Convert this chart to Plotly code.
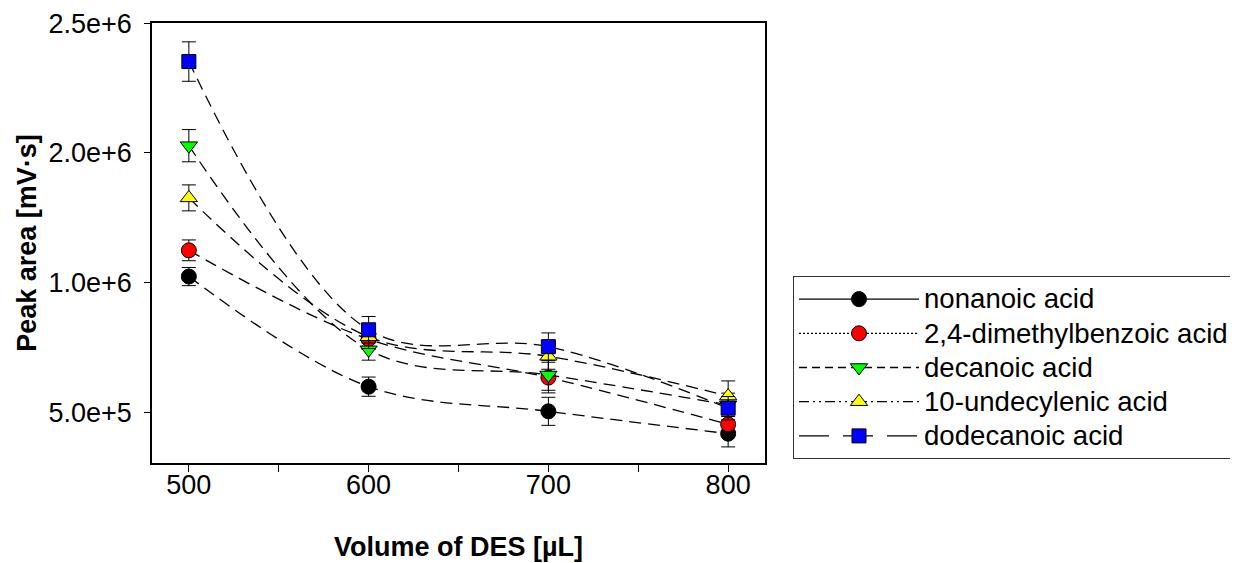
import plotly.graph_objects as go

# ---- data ----
volumes = [500, 600, 700, 800]

series_names = [
    "nonanoic acid",
    "2,4-dimethylbenzoic acid",
    "decanoic acid",
    "10-undecylenic acid",
    "dodecanoic acid",
]

nonanoic = [1.024e6, 6.00e5, 5.05e5, 4.19e5]
nonanoic_err = [3.5e4, 3.7e4, 5.4e4, 5.1e4]

dimethylbenzoic = [1.125e6, 7.83e5, 6.35e5, 4.55e5]
dimethylbenzoic_err = [4.0e4, 4.0e4, 5.9e4, 4.0e4]

decanoic = [1.528e6, 7.42e5, 6.45e5, 5.30e5]
decanoic_err = [6.2e4, 4.0e4, 5.9e4, 4.5e4]

undecylenic = [1.327e6, 7.92e5, 7.17e5, 5.64e5]
undecylenic_err = [5.0e4, 4.5e4, 5.0e4, 5.8e4]

dodecanoic = [1.852e6, 8.19e5, 7.54e5, 5.17e5]
dodecanoic_err = [7.6e4, 5.1e4, 5.3e4, 4.5e4]

y_tickvals = [5e5, 1e6, 1.5e6, 2e6]
y_ticktext = ["5.0e+5", "1.0e+6", "2.0e+6", "2.5e+6"]
x_tickvals = [500, 600, 700, 800]
x_ticktext = ["500", "600", "700", "800"]
x_minor_tickvals = [550, 650, 750]

# ---- styles ----
values = [nonanoic, dimethylbenzoic, decanoic, undecylenic, dodecanoic]
errors = [nonanoic_err, dimethylbenzoic_err, decanoic_err, undecylenic_err, dodecanoic_err]
colors = ["#000000", "#FF0000", "#00FF00", "#FFFF00", "#0000FF"]
symbols = ["circle", "circle", "triangle-down", "triangle-up", "square"]
sizes = [15, 15, 15, 15, 14]
legend_dash = ["solid", "2px,2px", "8px,5px", "10px,4px,2px,4px,2px,4px", "30px,14px"]

FONT = "Arial, Liberation Sans, sans-serif"
TXT = 27

fig = go.Figure()

for name, y, err, c, s, sz, ld in zip(series_names, values, errors, colors,
                                      symbols, sizes, legend_dash):
    fig.add_trace(go.Scatter(
        x=volumes, y=y, mode="lines+markers", name=name,
        showlegend=False, legendgroup=name,
        line=dict(color="black", width=1.3, dash="12px,7px", shape="spline", smoothing=1),
        marker=dict(symbol=s, size=sz, color=c, line=dict(color="black", width=1)),
        error_y=dict(type="data", array=err, visible=True, color="black",
                     thickness=1, width=7),
        cliponaxis=False,
    ))
    # legend entry
    fig.add_trace(go.Scatter(
        x=[None], y=[None], mode="lines+markers",
        name=f'<span style="font-size:27.6px">{name}</span>',
        legendgroup=name, showlegend=True,
        line=dict(color="black", width=1.3, dash=ld),
        marker=dict(symbol=s, size=sz, color=c, line=dict(color="black", width=1)),
    ))

# page body adds an 8px offset; figure is sized/placed to compensate
fig.update_layout(
    width=1230, height=555,
    margin=dict(l=144, r=473, t=15, b=100, autoexpand=False),
    plot_bgcolor="white", paper_bgcolor="white",
    font=dict(family=FONT, size=TXT, color="black"),
    showlegend=True,
    legend=dict(
        x=(785 - 144) / 613, xanchor="left",
        y=(455 - 268) / 440, yanchor="top",
        bordercolor="#333333", borderwidth=1,
        bgcolor="white",
        font=dict(family=FONT, size=24, color="black"),
        itemwidth=120,
        tracegroupgap=0,
        traceorder="normal",
    ),
)

fig.update_xaxes(
    range=[479.5, 820.5],
    tickmode="array", tickvals=x_tickvals, ticktext=x_ticktext,
    ticks="outside", ticklen=7, tickwidth=1, tickcolor="black",
    minor=dict(tickmode="array", tickvals=x_minor_tickvals, ticks="outside",
               ticklen=7, tickwidth=1, tickcolor="black", showgrid=False),
    showline=True, linecolor="black", linewidth=1.5, mirror=True,
    showgrid=False, zeroline=False,
    tickfont=dict(size=TXT),
    ticklabelstandoff=-10,
    title=dict(text="<b>Volume of DES [µL]</b>", font=dict(size=TXT), standoff=38),
)

fig.update_yaxes(
    range=[3.06e5, 2.0005e6],
    tickmode="array", tickvals=y_tickvals, ticktext=y_ticktext,
    ticks="outside", ticklen=6, tickwidth=1, tickcolor="black",
    showline=True, linecolor="black", linewidth=1.5, mirror=True,
    showgrid=False, zeroline=False,
    tickfont=dict(size=TXT),
    ticklabelstandoff=7,
    title=dict(text="<b>Peak area [mV·s]</b>", font=dict(size=TXT), standoff=4),
)

fig.write_html("out.html")
